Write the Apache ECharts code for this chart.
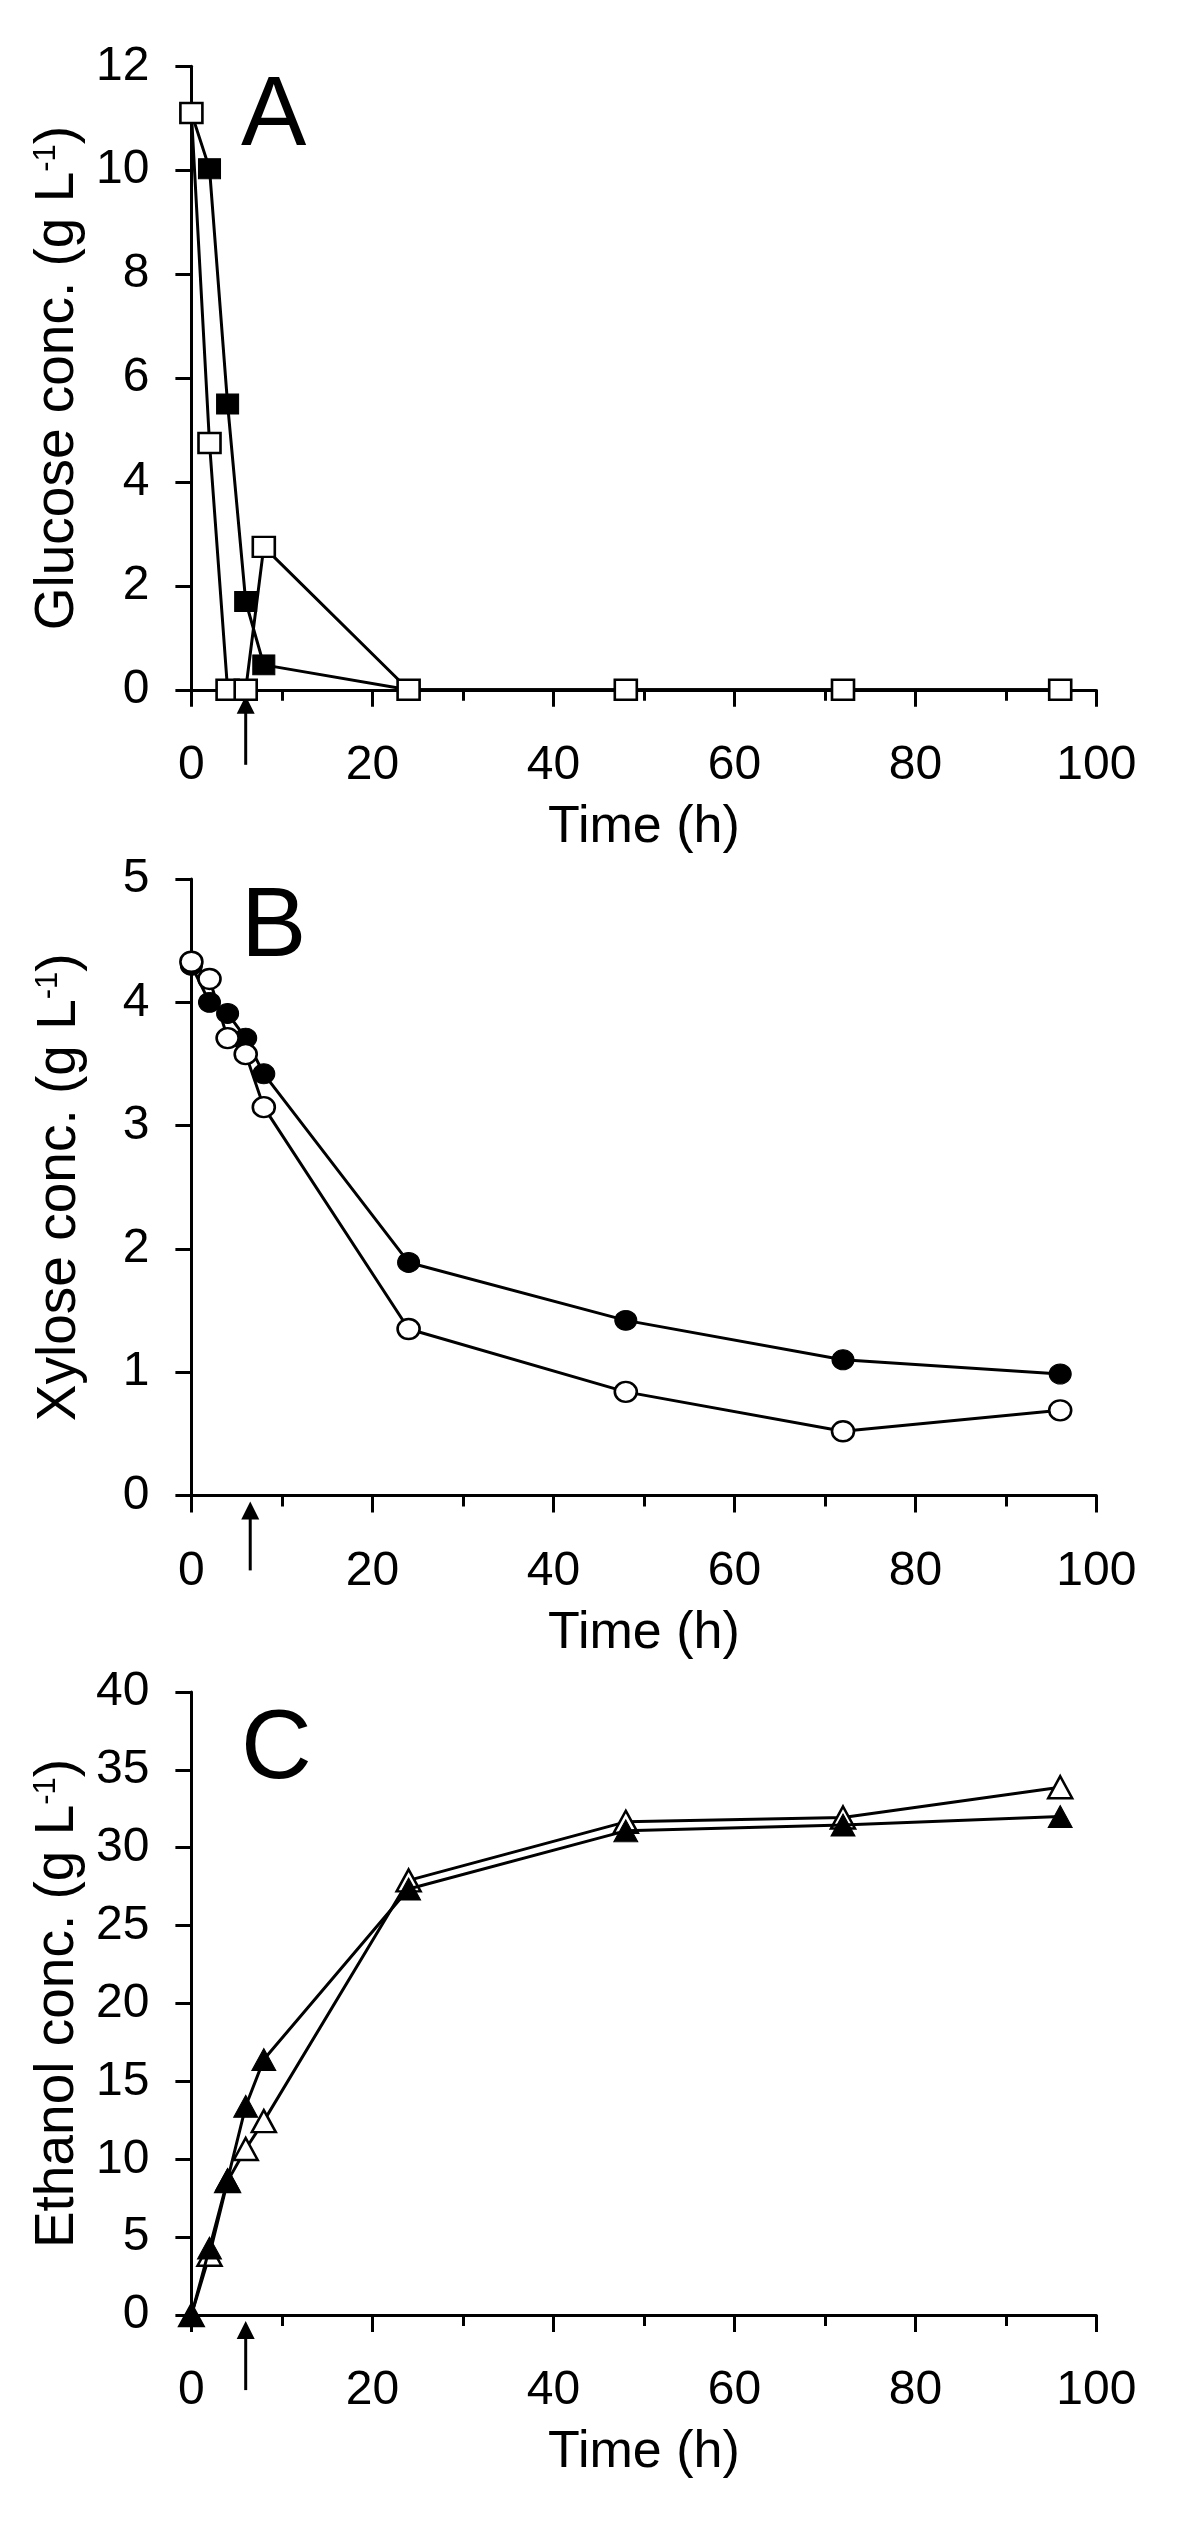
<!DOCTYPE html>
<html>
<head>
<meta charset="utf-8">
<script src="https://cdn.jsdelivr.net/npm/echarts@6/dist/echarts.min.js"></script>
<style>html,body{margin:0;padding:0;background:#fff;}#c{width:1200px;height:2530px;}</style>
</head>
<body>
<div id="c"></div>
<script>
// ---- data ----
const times = [0, 2, 4, 6, 8, 24, 48, 72, 96];
const glucoseFilled = [11.1, 10.03, 5.5, 1.7, 0.48, 0, 0, 0, 0];
const glucoseOpen = [11.1, 4.75, 0, 0, 2.75, 0, 0, 0, 0];
const xyloseFilled = [4.3, 4.0, 3.91, 3.71, 3.42, 1.89, 1.42, 1.10, 0.985];
const xyloseOpen = [4.33, 4.19, 3.71, 3.58, 3.15, 1.35, 0.84, 0.52, 0.69];
const ethanolFilled = [0, 4.3, 8.7, 13.4, 16.4, 27.35, 31.08, 31.46, 32.0];
const ethanolOpen = [0, 3.87, 8.6, 10.66, 12.45, 27.9, 31.66, 31.94, 33.88];
const panelLetters = ['A', 'B', 'C'];
const yNames = ['Glucose conc. (g L{sup|-1})', 'Xylose conc. (g L{sup|-1})', 'Ethanol conc. (g L{sup|-1})'];
const xName = 'Time (h)';
const yMax = [12, 5, 40];
const yInterval = [2, 1, 5];
const arrowTimes = [6, 6.5, 6];

// ---- layout ----
const FONT = 'Liberation Sans, Arial, Helvetica, sans-serif';
const gridLeft = 191.4, gridRight = 103.6;
const gridTops = [66.3, 879.1, 1691.9];
const gridHeights = [623.5, 616.3, 623.2];
const letterTops = [69, 880, 1702];

const chart = echarts.init(document.getElementById('c'), null, {renderer: 'canvas'});

function pairs(ys) { return times.map((t, i) => [t, ys[i]]); }

const grids = [], xAxes = [], yAxes = [], series = [];
for (let i = 0; i < 3; i++) {
  grids.push({left: gridLeft, right: gridRight, top: gridTops[i], height: gridHeights[i], containLabel: false});
  xAxes.push({
    type: 'value', gridIndex: i, min: 0, max: 100, interval: 20,
    name: xName, nameLocation: 'middle', nameGap: 112,
    nameTextStyle: {fontSize: 52, color: '#000', fontFamily: FONT},
    axisLine: {show: true, onZero: false, lineStyle: {color: '#000', width: 3}},
    axisTick: {show: true, length: 17, lineStyle: {color: '#000', width: 3}},
    minorTick: {show: true, splitNumber: 2, length: 11, lineStyle: {color: '#000', width: 3}},
    splitLine: {show: false}, minorSplitLine: {show: false},
    axisLabel: {fontSize: 48, color: '#000', margin: 52, fontFamily: FONT}
  });
  yAxes.push({
    type: 'value', gridIndex: i, min: 0, max: yMax[i], interval: yInterval[i],
    name: yNames[i], nameLocation: 'middle', nameGap: 104, nameRotate: 90,
    nameTextStyle: {fontSize: 55, color: '#000', fontFamily: FONT,
      rich: {sup: {fontSize: 31, color: '#000', fontFamily: FONT, padding: [0, 0, 23, 0]}}},
    axisLine: {show: true, onZero: false, lineStyle: {color: '#000', width: 3}},
    axisTick: {show: true, length: 16, lineStyle: {color: '#000', width: 3}},
    splitLine: {show: false},
    axisLabel: {fontSize: 48, color: '#000', margin: 42, fontFamily: FONT}
  });
}

const panelData = [
  {filled: glucoseFilled, open: glucoseOpen, symbol: 'rect', size: [22, 20], openOnTop: true},
  {filled: xyloseFilled, open: xyloseOpen, symbol: 'circle', size: [22, 20], openOnTop: true},
  {filled: ethanolFilled, open: ethanolOpen, symbol: 'triangle', size: [24, 22], openOnTop: false}
];

panelData.forEach((p, i) => {
  const filled = {
    type: 'line', xAxisIndex: i, yAxisIndex: i, data: pairs(p.filled),
    symbol: p.symbol, symbolSize: p.size, clip: false,
    lineStyle: {color: '#000', width: 3},
    itemStyle: {color: '#000', borderColor: '#000', borderWidth: 1},
    z: p.openOnTop ? 2 : 3
  };
  const open = {
    type: 'line', xAxisIndex: i, yAxisIndex: i, data: pairs(p.open),
    symbol: p.symbol, symbolSize: p.size, clip: false,
    lineStyle: {color: '#000', width: 3},
    itemStyle: {color: '#fff', borderColor: '#000', borderWidth: 2.5},
    z: p.openOnTop ? 3 : 2
  };
  series.push(filled, open);
});

chart.setOption({
  backgroundColor: '#fff',
  animation: false,
  grid: grids, xAxis: xAxes, yAxis: yAxes, series: series
});

// panel letters and arrows
const graphics = [];
for (let i = 0; i < 3; i++) {
  graphics.push({
    type: 'text', left: 241, top: letterTops[i],
    style: {text: panelLetters[i], fontSize: 98, fontFamily: FONT, fill: '#000'}
  });
  const pt = chart.convertToPixel({xAxisIndex: i, yAxisIndex: i}, [arrowTimes[i], 0]);
  const x = pt[0], y = pt[1];
  graphics.push({
    type: 'line', shape: {x1: x, y1: y + 18, x2: x, y2: y + 75},
    style: {stroke: '#000', lineWidth: 3}
  });
  graphics.push({
    type: 'polygon', shape: {points: [[x, y + 6], [x - 9, y + 24], [x + 9, y + 24]]},
    style: {fill: '#000'}
  });
}
chart.setOption({graphic: graphics});
</script>
</body>
</html>
